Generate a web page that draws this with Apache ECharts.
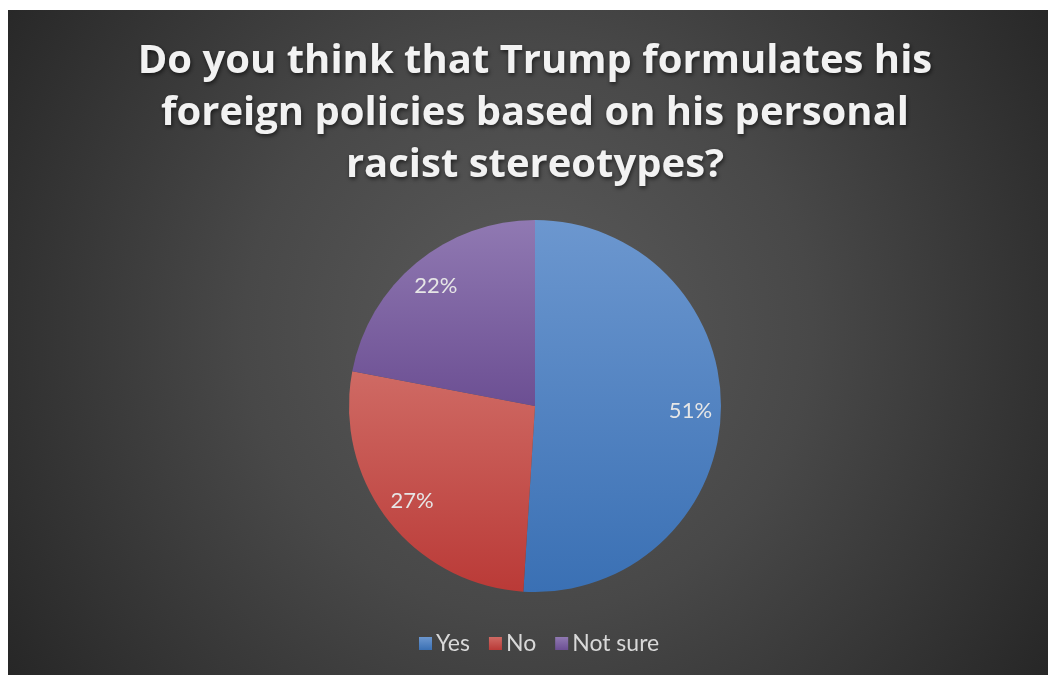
<!DOCTYPE html>
<html><head><meta charset="utf-8">
<script src="https://cdn.jsdelivr.net/npm/echarts@6/dist/echarts.min.js"></script>
<style>
html,body{margin:0;padding:0;background:#fff;width:1048px;height:675px;overflow:hidden;}
#c{position:absolute;left:8px;top:10px;width:1040px;height:665px;}
</style></head>
<body><div id="c"></div>
<script>
const titleText = 'Do you think that Trump formulates his\nforeign policies based on his personal\nracist stereotypes?';
const categories = ['Yes', 'No', 'Not sure'];
const values = [51, 27, 22];
const topColors = ['#6C97CF', '#CF6A64', '#9079B2'];
const bottomColors = ['#3A70B4', '#BA3A37', '#6C4F93'];

const chart = echarts.init(document.getElementById('c'), null, {renderer: 'canvas'});
const grad = (i) => new echarts.graphic.LinearGradient(0, 0, 0, 1, [
  {offset: 0, color: topColors[i]}, {offset: 1, color: bottomColors[i]}
]);
const pieData = categories.map((n, i) => ({name: n, value: values[i], itemStyle: {color: grad(i)}}));
const labelData = categories.map((n, i) => ({name: n, value: values[i]}));
const R = 186;
chart.setOption({
  backgroundColor: new echarts.graphic.RadialGradient(0.5, 0.48, 0.95, [
    {offset: 0, color: '#5b5b5b'}, {offset: 0.45, color: '#484848'}, {offset: 1, color: '#262626'}
  ]),
  animation: false,
  title: {
    text: titleText, left: 522, top: 21, textAlign: 'center',
    textStyle: {
      color: '#f2f2f2', fontFamily: 'Open Sans', fontWeight: 'bold', fontSize: 40, lineHeight: 52,
      textShadowColor: 'rgba(0,0,0,0.6)', textShadowBlur: 4, textShadowOffsetX: 1, textShadowOffsetY: 2
    }
  },
  legend: {
    data: categories, bottom: 15, left: 406, icon: 'rect', itemWidth: 13, itemHeight: 13, itemGap: 19,
    textStyle: {color: '#d9d9d9', fontFamily: 'Lato', fontSize: 23, padding: [0, 0, 0, -1]}
  },
  series: [{
    type: 'pie', center: [527, 396], radius: [0, R], startAngle: 90, clockwise: true,
    label: {show: false}, labelLine: {show: false}, silent: true,
    itemStyle: {borderWidth: 0},
    data: pieData
  }, {
    type: 'pie', center: [527, 396], radius: [0.64 * R, R], startAngle: 90, clockwise: true, silent: true,
    itemStyle: {color: 'rgba(0,0,0,0)'},
    label: {show: true, position: 'inside', formatter: '{c}%', color: '#e6e6e6', fontFamily: 'Lato', fontSize: 22},
    labelLine: {show: false},
    data: labelData
  }]
});
</script></body></html>
